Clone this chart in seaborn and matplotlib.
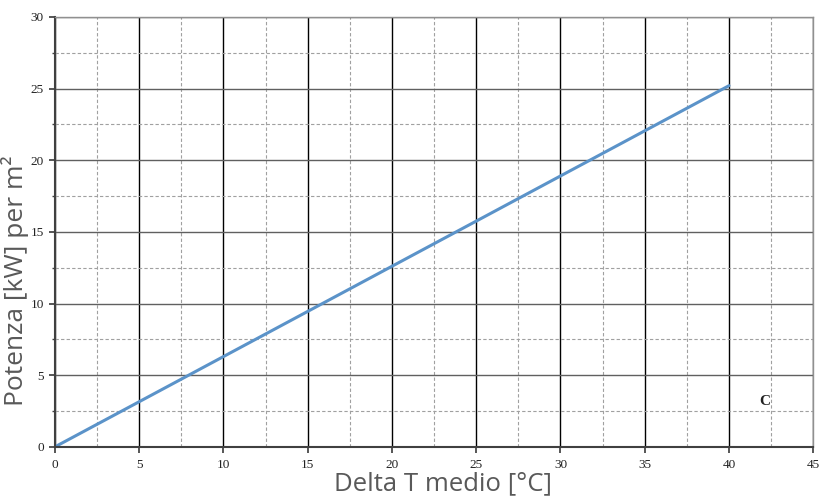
import matplotlib
matplotlib.use("Agg")
import matplotlib.pyplot as plt
import seaborn as sns
import pandas as pd
from matplotlib.ticker import MultipleLocator

# dati
delta_t = [0, 40]
potenza = [0, 25.2]
etichetta_curva = "C"

df = pd.DataFrame({"delta_t": delta_t, "potenza": potenza})

sns.set_theme(style="white")

fig = plt.figure(figsize=(8.19, 4.96), dpi=100)
ax = fig.add_axes([0.067, 0.099, 0.926, 0.867])

sns.lineplot(data=df, x="delta_t", y="potenza", color="#5b93c9", linewidth=2.2, ax=ax)

ax.set_xlim(0, 45)
ax.set_ylim(0, 30)
ax.xaxis.set_major_locator(MultipleLocator(5))
ax.yaxis.set_major_locator(MultipleLocator(5))
ax.xaxis.set_minor_locator(MultipleLocator(2.5))
ax.yaxis.set_minor_locator(MultipleLocator(2.5))

# griglia
ax.grid(which="minor", color="#a0a0a0", linestyle=(0, (3, 2)), linewidth=0.8)
ax.grid(which="major", axis="x", color="black", linewidth=1.0)
ax.grid(which="major", axis="y", color="#606060", linewidth=1.0)
ax.set_axisbelow(True)

for side in ["left", "bottom"]:
    ax.spines[side].set_color("#404040")
    ax.spines[side].set_linewidth(1.5)
for side in ["top", "right"]:
    ax.spines[side].set_color("#909090")
    ax.spines[side].set_linewidth(1.0)

ax.tick_params(which="major", direction="out", length=4, color="#404040",
               labelsize=9.5, labelcolor="#222222", pad=5, left=True, bottom=True)
ax.tick_params(which="major", axis="y", pad=4)
ax.tick_params(which="minor", axis="y", direction="out", length=2, color="#404040", left=True)
for lab in ax.get_xticklabels() + ax.get_yticklabels():
    lab.set_family("Liberation Serif")

ax.set_xlabel("")
ax.set_ylabel("")
# titoli assi posizionati come nell'originale
fig.text(0.541, 0.024, "Delta T medio [°C]", fontsize=18.5, color="#595959",
         family="Open Sans", ha="center", va="center")
fig.text(0.018, 0.435, "Potenza [kW] per m²", fontsize=19, color="#595959",
         family="Open Sans", ha="center", va="center", rotation=90)

ax.text(42.15, 3.2, etichetta_curva, fontsize=11, fontweight="bold", family="Liberation Serif",
        ha="center", va="center", color="#222222")

fig.savefig("out.png", dpi=100)
